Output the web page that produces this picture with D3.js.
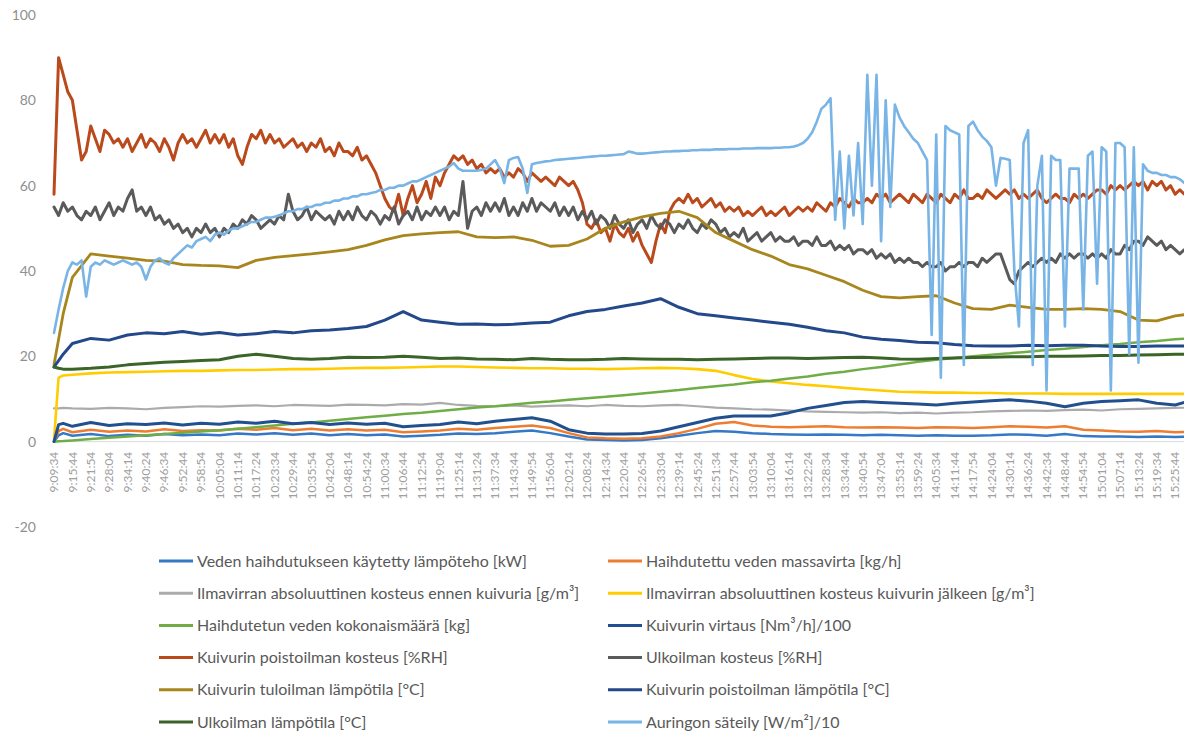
<!DOCTYPE html>
<html><head><meta charset="utf-8">
<script src="https://cdn.jsdelivr.net/npm/d3@7"></script>
<style>body{margin:0;background:#fff}svg{display:block}text{font-family:Lato,"Open Sans",sans-serif}</style>
</head><body><svg id="c" width="1184" height="733"></svg>
<script>
// ---------- DATA ----------
const xLabels = ["9:09:34","9:15:44","9:21:54","9:28:04","9:34:14","9:40:24","9:46:34","9:52:44","9:58:54","10:05:04","10:11:14","10:17:24","10:23:34","10:29:44","10:35:54","10:42:04","10:48:14","10:54:24","11:00:34","11:06:44","11:12:54","11:19:04","11:25:14","11:31:24","11:37:34","11:43:44","11:49:54","11:56:04","12:02:14","12:08:24","12:14:34","12:20:44","12:26:54","12:33:04","12:39:14","12:45:24","12:51:34","12:57:44","13:03:54","13:10:04","13:16:14","13:22:24","13:28:34","13:34:44","13:40:54","13:47:04","13:53:14","13:59:24","14:05:34","14:11:44","14:17:54","14:24:04","14:30:14","14:36:24","14:42:34","14:48:44","14:54:54","15:01:04","15:07:14","15:13:24","15:19:34","15:25:44"];
const yTicks = [-20, 0, 20, 40, 60, 80, 100];

const seriesNames = [
 "Veden haihdutukseen käytetty lämpöteho [kW]",
 "Haihdutettu veden massavirta [kg/h]",
 "Ilmavirran absoluuttinen kosteus ennen kuivuria [g/m³]",
 "Ilmavirran absoluuttinen kosteus kuivurin jälkeen [g/m³]",
 "Haihdutetun veden kokonaismäärä [kg]",
 "Kuivurin virtaus [Nm³/h]/100",
 "Kuivurin poistoilman kosteus [%RH]",
 "Ulkoilman kosteus [%RH]",
 "Kuivurin tuloilman lämpötila [°C]",
 "Kuivurin poistoilman lämpötila [°C]",
 "Ulkoilman lämpötila [°C]",
 "Auringon säteily [W/m²]/10"
];

// sample times (in x-label units) for the smoother series
const smoothT = [0, 0.25, 0.5].concat(d3.range(1, 63));

const lampoteho = [0,1.5,2, 1.4,1.8,1.3,1.6,1.4,1.8,1.5,1.7,1.5,1.9, 1.7,2.0,1.6,1.9,1.5,1.8,1.5,1.7,1.2,1.4, 1.6,1.9,1.8,2.0,2.3,2.6,2.0,1.2,0.5,0.4, 0.3,0.4,0.8,1.4,2.0,2.5,2.3,2.0,1.8,1.7, 1.6,1.7,1.6,1.5,1.6,1.5,1.4,1.5,1.4,1.4, 1.5,1.7,1.6,1.4,1.8,1.3,1.2,1.2,1.1,1.2, 1.1,1.2];
const massavirta = [0,2.5,3, 2.2,2.8,2.3,2.6,2.4,2.9,2.5,2.7,2.6,3.0, 2.8,3.2,2.7,3.0,2.6,2.9,2.6,2.8,2.2,2.4, 2.6,3.0,2.8,3.2,3.5,3.8,3.2,2.0,1.0,0.8, 0.7,0.8,1.2,2.0,3.0,4.2,4.6,3.8,3.5,3.4, 3.5,3.6,3.4,3.3,3.4,3.3,3.2,3.4,3.3,3.2, 3.4,3.6,3.5,3.3,3.6,2.8,2.6,2.4,2.3,2.5, 2.2,2.3];
const kosteusEnnen = [7.8,7.8,7.9, 7.8,7.7,7.9,7.8,7.6,7.9,8.1,8.3,8.2,8.4, 8.5,8.3,8.6,8.5,8.4,8.7,8.6,8.5,8.8,8.7, 9.1,8.6,8.4,8.3,8.5,8.2,8.4,8.5,8.3,8.6, 8.4,8.3,8.5,8.6,8.3,8.0,7.8,7.6,7.5,7.3, 7.1,7.0,6.9,6.8,6.9,6.7,6.8,6.6,6.8,6.9, 7.1,7.2,7.3,7.2,7.4,7.5,7.3,7.6,7.7,7.8, 7.9,8.0];
const kosteusJalkeen = [0.5,15,15.5, 15.7,16,16.2,16.3,16.4,16.5,16.6,16.6,16.7,16.8, 16.8,16.9,17,17,17.1,17.2,17.3,17.3,17.4,17.5, 17.6,17.6,17.5,17.4,17.3,17.2,17.2,17.1,17.1,17, 17.1,17.2,17.3,17.2,17,16.6,15.6,14.7,14.1,13.7, 13.3,13,12.6,12.3,12,11.7,11.6,11.5,11.5,11.4, 11.4,11.3,11.3,11.3,11.2,11.2,11.2,11.2,11.2,11.2, 11.2,11.2];
const kokonaismaara = [0,0.1,0.15, 0.3,0.6,0.9,1.2,1.5,1.8,2.1,2.4,2.7,3.0, 3.4,3.8,4.2,4.5,4.9,5.3,5.7,6.1,6.5,6.8, 7.2,7.6,8.0,8.3,8.7,9.1,9.4,9.8,10.2,10.5, 10.9,11.3,11.7,12.1,12.6,13.0,13.4,13.9,14.3,14.8, 15.3,15.9,16.4,17.0,17.5,18.1,18.7,19.2,19.6,20.0, 20.4,20.7,21.1,21.5,21.8,22.2,22.6,22.9,23.3,23.6, 24.0,24.3];
const virtaus = [0,4,4.3, 3.6,4.5,3.8,4.2,4.0,4.4,3.9,4.3,4.1,4.6, 4.3,4.8,4.2,4.5,4.0,4.4,4.1,4.3,3.5,3.8, 4.0,4.6,4.2,4.8,5.2,5.6,4.8,2.8,2.0,1.8, 1.8,1.9,2.5,3.5,4.5,5.5,6.0,6.0,6.0,6.8, 7.8,8.5,9.2,9.4,9.2,9.0,8.8,8.6,9.0,9.3, 9.6,9.8,9.5,9.0,8.2,9.0,9.4,9.6,9.8,9.0, 8.6,9.8];
const tuloLampo = [18,24,30, 38.5,44,43.5,43,42.5,42.3,41.5,41.3,41.2,40.8, 42.5,43.2,43.6,44,44.5,45,46,47.3,48.3,48.7, 49,49.2,48,47.8,48,47.2,45.8,46,47.5,50, 51.5,52.7,53.5,54,52.5,49,47,45,43.5,41.5, 40.5,39,37.5,35.5,34,33.7,34,34.2,32.5,31.2, 31,32,31.5,31,31,31.2,31,30.5,28.5,28.3, 29.5,30];
const poistoLampo = [17.5,19,20.5, 23,24.2,23.8,25,25.5,25.3,25.8,25.2,25.6,25, 25.3,25.8,25.5,26,26.2,26.5,27,28.5,30.5,28.5, 28,27.5,27.6,27.4,27.5,27.8,28,29.5,30.5,31, 31.8,32.5,33.5,31.5,30,29.5,29,28.5,28,27.5, 26.8,26,25.5,24.5,24,23.7,23.3,23.2,22.8,22.5, 22.4,22.4,22.6,22.5,22.6,22.6,22.4,22.3,22.3,22.4, 22.4,22.4];
const ulkoLampo = [17.5,17.2,17, 17,17.2,17.5,18,18.3,18.6,18.8,19,19.2,20, 20.5,20,19.5,19.3,19.5,19.8,19.7,19.8,20,19.8, 19.5,19.6,19.4,19.3,19.2,19.5,19.3,19.2,19.2,19.3, 19.5,19.4,19.3,19.3,19.2,19.3,19.4,19.5,19.6,19.6, 19.5,19.6,19.7,19.8,19.6,19.4,19.3,19.5,19.6,19.7, 19.8,19.9,19.9,20,20,20.1,20.2,20.2,20.3,20.4, 20.5,20.5];

// dense series, one value every quarter label step
const poistoKosteus = [
58,90,86,82, 80,73,66,68, 74,71,68,73, 72,70,71,69, 71,68,70,72, 69,71,70,68, 71,69,66,70, 72,70,71,69, 71,73,70,72, 70,72,69,71,
67,65,69,72, 71,73,70,72, 70,71,69,70, 71,69,70,68, 70,69,71,68, 69,67,70,68, 68,67,69,66, 67,65,63,60, 57,55,54,58, 53,57,60,56,
58,61,57,62, 60,63,65,67, 66,67,65,66, 64,65,63,64, 63,64,62,63, 62,64,63,61, 63,62,61,62, 61,60,62,61, 60,61,59,56, 51,50,52,49,
50,47,51,49, 48,50,47,49, 46,44,42,47, 51,49,54,56, 57,56,58,56, 57,55,56,57, 55,56,54,55, 54,55,53,54, 53,54,55,53, 54,53,54,55,
53,54,55,54, 55,54,56,55, 54,56,55,57, 56,55,57,56, 56,57,56,58, 57,58,56,57, 58,57,56,58, 57,56,58,57, 56,58,57,56, 58,57,59,57,
57,58,57,59, 58,57,58,59, 58,59,57,58, 57,58,59,57, 56,57,58,57, 57,56,58,57, 58,57,58,59, 59,58,60,59, 60,59,60,61, 60,61,59,61,
60,61,59,60, 58,59,58,59];
const ulkoKosteus = [
55,53,56,54, 55,53,52,54, 53,55,52,54, 56,53,55,54, 57,59,54,55, 53,55,52,53, 51,52,50,51, 49,50,48,50, 49,51,49,50, 48,50,49,51,
50,52,51,53, 52,50,51,52, 51,53,52,58, 54,52,53,55, 52,54,53,52, 53,51,54,52, 54,52,55,53, 52,54,53,51, 53,52,55,51, 53,54,52,55,
52,54,53,55, 53,55,52,54, 53,61,50,54, 55,53,56,54, 56,54,57,53, 55,53,56,54, 57,54,56,55, 54,56,53,55, 53,55,52,54, 52,54,51,53,
52,50,53,51, 50,52,49,51, 52,50,53,51, 50,52,51,49, 51,50,52,50, 49,51,50,52, 51,49,50,48, 49,48,50,47, 48,49,47,48, 49,47,48,47,
47,48,46,47, 47,46,48,46, 46,47,45,46, 45,46,44,45, 45,44,45,43, 44,43,44,42, 43,42,43,42, 42,41,42,41, 41,42,40,41, 41,42,41,42,
42,41,43,42, 43,44,44,41, 38,37,40,41, 42,41,42,43, 42,43,42,44, 43,44,43,44, 44,43,44,43, 44,43,45,44, 44,46,45,47, 47,46,48,47,
46,47,45,46, 45,44,45,44];
const saterily = [
25.5,31,36,40, 42,41.5,42.5,34, 41,42,41.5,42.5, 42,41.5,42,42.5, 42,41.5,42,41, 38,41,42.5,43, 42,41.5,43,44, 45,46,45.5,47, 47.5,48,47,48.5, 49,48.5,49.5,50,
50,50.5,51,51.5, 51.5,52,52.5,52.5, 52.7,53,53.5,54, 54,54.5,54.5,55, 55,55.5,55.5,56, 56,56.5,56.5,57, 57,57.5,57.5,58, 58,58.3,58.5,59, 59,59.5,59.5,60, 60,60.5,61,61,
61.5,62,62.5,63, 63.5,64,64.5,65.3, 64,63.5,63.5,63.5, 63.5,63.7,64,65, 66,64,60.6,66, 66.5,66.7,64,58.3, 65,65.3,65.5,65.7, 65.8,66,66.1,66.2, 66.3,66.4,66.5,66.6, 66.7,66.8,66.9,67,
67,67.1,67.2,67.3, 67.4,68,67.8,67.5, 67.5,67.6,67.7,67.8, 67.9,68,68,68.1, 68.1,68.2,68.2,68.3, 68.3,68.4,68.4,68.4, 68.5,68.5,68.5,68.6, 68.6,68.6,68.7,68.7, 68.7,68.8,68.8,68.8, 68.8,68.9,68.9,69,
69,69.2,69.5,70, 71,72.5,75,78, 79,80.5,52,68, 50,67,53,70, 51,86,60,86, 47,80,55,79, 76,74,72.5,71, 70,68,66,25, 72,15,74,73, 72.5,72,18,74,
75,73,71.5,70.5, 69,60,66.5,66.3, 66,40,27,70, 73,18,60,67, 12,67,66,66, 27,64,64,64, 31,67,68,37, 69,68,12,70, 70,69,20.5,69, 18.5,65,63.5,63,
63,62.5,62.5,62, 62,61.5,60.6,60.5];

// ---------- STYLE ----------
const colors = ["#3478C6","#ED7D31","#ABABAB","#FFCC00","#70AD47","#22508F","#BA4A1C","#5A5A5A","#A8861E","#23498A","#3A6428","#79B4E6"];
const widths = [2.5,2.5,2.2,2.6,2.5,3,3,3,2.8,3,3,2.6];

const smoothVals = [lampoteho, massavirta, kosteusEnnen, kosteusJalkeen, kokonaismaara, virtaus];
const series = [
  smoothT.map((t,i)=>[t, lampoteho[i]]),
  smoothT.map((t,i)=>[t, massavirta[i]]),
  smoothT.map((t,i)=>[t, kosteusEnnen[i]]),
  smoothT.map((t,i)=>[t, kosteusJalkeen[i]]),
  smoothT.map((t,i)=>[t, kokonaismaara[i]]),
  smoothT.map((t,i)=>[t, virtaus[i]]),
  poistoKosteus.map((v,i)=>[i*0.25, v]),
  ulkoKosteus.map((v,i)=>[i*0.25, v]),
  smoothT.map((t,i)=>[t, tuloLampo[i]]),
  smoothT.map((t,i)=>[t, poistoLampo[i]]),
  smoothT.map((t,i)=>[t, ulkoLampo[i]]),
  saterily.map((v,i)=>[i*0.25, v])
];

// ---------- CHART ----------
const svg = d3.select("#c");
const x = d3.scaleLinear().domain([0, 61]).range([54, 54 + 61*18.38]);
const y = d3.scaleLinear().domain([-20, 100]).range([527, 15]);

svg.append("defs").append("clipPath").attr("id","clip")
  .append("rect").attr("x",40).attr("y",0).attr("width",1144).attr("height",560);

// y tick labels
svg.append("g").selectAll("text").data(yTicks).join("text")
  .attr("x", 36).attr("y", d=>y(d)).attr("dy","0.35em")
  .attr("text-anchor","end").attr("font-size",14).attr("fill","#8f8f8f")
  .text(d=>d);

// x axis line at 0
svg.append("line").attr("x1",x(0)).attr("x2",1184).attr("y1",y(0)).attr("y2",y(0))
  .attr("stroke","#d9d9d9").attr("stroke-width",1);

// x labels
svg.append("g").selectAll("text").data(xLabels).join("text")
  .attr("transform",(d,i)=>`translate(${x(i)},${y(0)+10}) rotate(-90)`)
  .attr("dy","0.35em").attr("text-anchor","end")
  .attr("font-size",12).attr("fill","#a0a0a0").text(d=>d);

const line = d3.line().defined(d=>d[1]!=null).x(d=>x(d[0])).y(d=>y(d[1]));
const gl = svg.append("g").attr("clip-path","url(#clip)");
series.forEach((s,i)=>{
  gl.append("path").attr("d", line(s)).attr("fill","none")
    .attr("stroke", colors[i]).attr("stroke-width", widths[i])
    .attr("stroke-linejoin","round").attr("stroke-linecap","round");
});

// legend
const lg = svg.append("g");
seriesNames.forEach((n,i)=>{
  const col = i % 2, row = Math.floor(i/2);
  const lx = col ? 608 : 159, ty = 561 + row*32.2;
  lg.append("line").attr("x1",lx).attr("x2",lx+34).attr("y1",ty).attr("y2",ty)
    .attr("stroke",colors[i]).attr("stroke-width",3);
  lg.append("text").attr("x",lx+38).attr("y",ty).attr("dy","0.35em")
    .attr("font-size",16).attr("fill","#595959").text(n);
});
</script></body></html>
